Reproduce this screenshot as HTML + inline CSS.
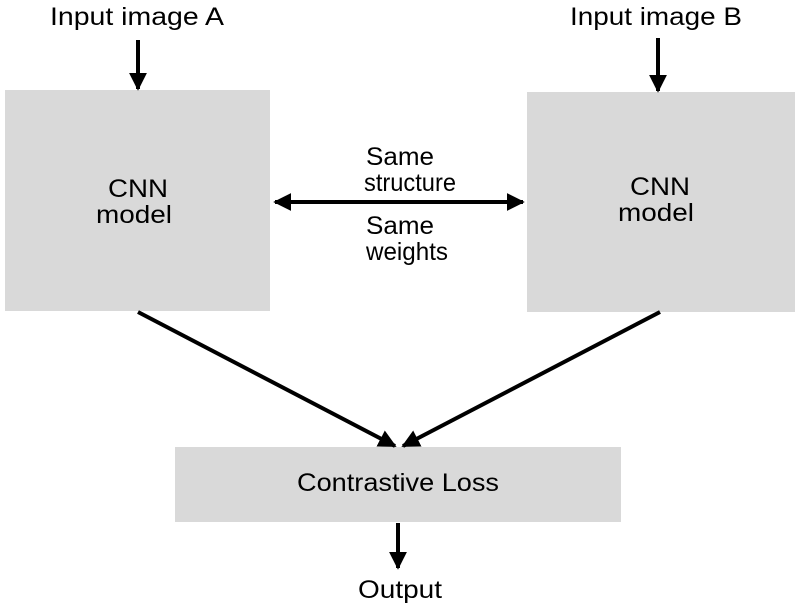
<!DOCTYPE html>
<html><head><meta charset="utf-8"><style>body{margin:0;background:#fff}svg{display:block}text{font-family:"Liberation Sans",sans-serif;font-size:25px;fill:#000;text-anchor:middle}</style></head>
<body>
<svg width="796" height="610" viewBox="0 0 796 610">
<defs><marker id="a" viewBox="0 0 10 10" refX="9" refY="5" markerWidth="4.5" markerHeight="4.5" orient="auto-start-reverse" markerUnits="strokeWidth"><path d="M0,0L10,5L0,10z" fill="#000"/></marker></defs>
<rect x="5" y="90" width="265" height="221" fill="#d9d9d9"/>
<rect x="527" y="92" width="268" height="220" fill="#d9d9d9"/>
<rect x="175" y="447" width="446" height="75" fill="#d9d9d9"/>
<g stroke="#000" stroke-width="4" fill="none">
<line x1="138" y1="40" x2="138" y2="89" marker-end="url(#a)"/>
<line x1="658" y1="38" x2="658" y2="91" marker-end="url(#a)"/>
<line x1="275" y1="202" x2="523" y2="202" marker-start="url(#a)" marker-end="url(#a)"/>
<line x1="138" y1="312" x2="395" y2="446" marker-end="url(#a)"/>
<line x1="660" y1="312" x2="403" y2="446" marker-end="url(#a)"/>
<line x1="398" y1="523" x2="398" y2="568" marker-end="url(#a)"/>
</g>
<g lengthAdjust="spacingAndGlyphs">
<text x="137" y="25" textLength="174" lengthAdjust="spacingAndGlyphs">Input image A</text>
<text x="656" y="25" textLength="172" lengthAdjust="spacingAndGlyphs">Input image B</text>
<text x="138" y="197" textLength="60" lengthAdjust="spacingAndGlyphs">CNN</text>
<text x="134" y="223" textLength="76" lengthAdjust="spacingAndGlyphs">model</text>
<text x="660" y="195" textLength="60" lengthAdjust="spacingAndGlyphs">CNN</text>
<text x="656" y="221" textLength="76" lengthAdjust="spacingAndGlyphs">model</text>
<text x="400" y="165" textLength="68" lengthAdjust="spacingAndGlyphs">Same</text>
<text x="410" y="191" textLength="92" lengthAdjust="spacingAndGlyphs">structure</text>
<text x="400" y="234" textLength="68" lengthAdjust="spacingAndGlyphs">Same</text>
<text x="407" y="260" textLength="82" lengthAdjust="spacingAndGlyphs">weights</text>
<text x="398" y="491" textLength="202" lengthAdjust="spacingAndGlyphs">Contrastive Loss</text>
<text x="400" y="598" textLength="84" lengthAdjust="spacingAndGlyphs">Output</text>
</g>
</svg>
</body></html>
